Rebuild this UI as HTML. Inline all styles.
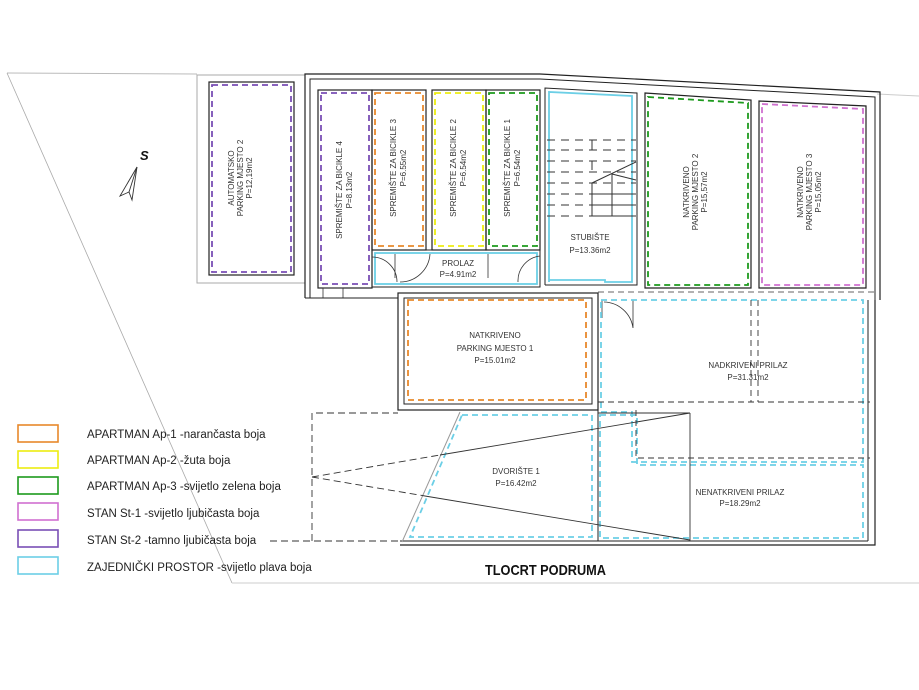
<!DOCTYPE html>
<html><head><meta charset="utf-8"><style>
html,body{margin:0;padding:0;background:#fff;width:919px;height:690px;overflow:hidden}
svg{display:block}
text{font-family:"Liberation Sans",sans-serif;fill:#333}
</style></head><body>
<svg width="919" height="690" viewBox="0 0 919 690" xmlns="http://www.w3.org/2000/svg">
<g fill="none" stroke-linejoin="miter">
<!-- site lines -->
<polyline points="7,73 197,74" stroke="#bbb" stroke-width="1"/>
<line x1="7" y1="73" x2="232" y2="583" stroke="#aaa" stroke-width="0.8"/>
<line x1="232" y1="583" x2="919" y2="583" stroke="#ccc" stroke-width="1"/>
<line x1="877" y1="94" x2="919" y2="96" stroke="#ccc" stroke-width="1"/>
<!-- auto parking -->
<rect x="197" y="75" width="108" height="208" stroke="#aaa" stroke-width="1"/>
<rect x="209" y="82" width="85" height="193" stroke="#222" stroke-width="1.2"/>
<rect x="212" y="85" width="79" height="187" stroke="#7a4fb5" stroke-width="1.8" stroke-dasharray="6,4"/>
<!-- building outer -->
<polyline points="305,298 305,74 540,74 880,92 880,300" stroke="#222" stroke-width="1.2"/>
<polyline points="310,298 310,79 540,79 875,97 875,300" stroke="#222" stroke-width="1"/>
<!-- storage -->
<rect x="318" y="90" width="54" height="198" stroke="#222" stroke-width="1.2"/>
<rect x="321" y="93" width="48" height="191" stroke="#7a4fb5" stroke-width="1.8" stroke-dasharray="6,4"/>
<rect x="372" y="90" width="54" height="160" stroke="#222" stroke-width="1.2"/>
<rect x="375" y="93" width="48" height="153" stroke="#e8892b" stroke-width="1.8" stroke-dasharray="6,4"/>
<rect x="432" y="90" width="54" height="160" stroke="#222" stroke-width="1.2"/>
<rect x="435" y="93" width="48" height="153" stroke="#eded10" stroke-width="1.8" stroke-dasharray="6,4"/>
<rect x="486" y="90" width="54" height="160" stroke="#222" stroke-width="1.2"/>
<rect x="489" y="93" width="48" height="153" stroke="#1d9a1d" stroke-width="1.8" stroke-dasharray="6,4"/>
<!-- prolaz -->
<rect x="372" y="250" width="168" height="37" stroke="#222" stroke-width="1"/>
<rect x="375" y="253" width="162" height="31" stroke="#6ccfe6" stroke-width="1.8"/>
<path d="M395,254 L395,278 M372,257 A25,25 0 0 1 397,282 M430,254 A30,30 0 0 1 400,282 M488,254 L488,278 M518,282 A25,25 0 0 1 540,256" stroke="#333" stroke-width="0.8"/>
<rect x="323" y="288" width="20" height="10" stroke="#333" stroke-width="0.8"/>
<!-- stubiste -->
<polyline points="545,285 545,88 637,93 637,285 545,285" stroke="#222" stroke-width="1"/>
<polygon points="549,282 549,92 632,96 632,282 605,282 605,280 549,280" stroke="#6ccfe6" stroke-width="1.8"/>
<g stroke="#333" stroke-width="1" stroke-dasharray="8,6">
<line x1="547" y1="140" x2="636" y2="140"/><line x1="547" y1="150" x2="636" y2="150"/><line x1="547" y1="161" x2="636" y2="161"/><line x1="547" y1="172" x2="636" y2="172"/><line x1="547" y1="183" x2="636" y2="183"/><line x1="547" y1="194" x2="636" y2="194"/><line x1="547" y1="205" x2="636" y2="205"/><line x1="547" y1="216" x2="636" y2="216"/>
</g>
<path d="M592,183 L592,216 M592,183 L636,162 M612,174 L636,180 M612,174 L612,216 M592,194 L636,194 M592,205 L636,205 M592,216 L636,216 M592,140 L592,150 M592,161 L592,170" stroke="#333" stroke-width="1"/>
<!-- parking 2,3 -->
<polygon points="645,93 751,100 751,288 645,288" stroke="#222" stroke-width="1.2"/>
<polygon points="648,97 748,103 748,285 648,285" stroke="#1d9a1d" stroke-width="1.8" stroke-dasharray="6,4"/>
<polygon points="759,101 866,106 866,288 759,288" stroke="#222" stroke-width="1.2"/>
<polygon points="762,104 863,109 863,285 762,285" stroke="#d070d0" stroke-width="1.8" stroke-dasharray="6,4"/>
<line x1="598" y1="292" x2="875" y2="292" stroke="#333" stroke-width="0.8" stroke-dasharray="6,4"/>
<!-- parking 1 -->
<rect x="398" y="293" width="200" height="117" stroke="#222" stroke-width="1.2"/>
<rect x="404" y="298" width="188" height="106" stroke="#222" stroke-width="1"/>
<rect x="408" y="300" width="178" height="100" stroke="#e8892b" stroke-width="1.8" stroke-dasharray="6,4"/>
<line x1="305" y1="298" x2="398" y2="298" stroke="#222" stroke-width="1"/>
<!-- door -->
<path d="M602,300 L602,318 M604,302 A30,30 0 0 1 633,328 L633,300" stroke="#333" stroke-width="0.8"/>
<!-- approach -->
<polyline points="875,300 875,545 400,545" stroke="#222" stroke-width="1.2"/>
<line x1="400" y1="541" x2="868" y2="541" stroke="#222" stroke-width="1"/>
<line x1="868" y1="300" x2="868" y2="541" stroke="#222" stroke-width="1"/>
<line x1="598" y1="298" x2="598" y2="541" stroke="#222" stroke-width="1"/>
<polygon points="601,300 863,300 863,462 632,462 632,412 601,412" stroke="#6ccfe6" stroke-width="1.8" stroke-dasharray="6,4"/>
<polygon points="600,415 637,415 637,465 863,465 863,538 600,538" stroke="#6ccfe6" stroke-width="1.8" stroke-dasharray="6,4"/>
<g stroke="#333" stroke-width="0.9" stroke-dasharray="6,4">
<line x1="598" y1="402" x2="870" y2="402"/>
<polyline points="636,410 636,458 870,458"/>
<line x1="751" y1="300" x2="751" y2="402"/>
<line x1="758" y1="300" x2="758" y2="402"/>
</g>
<!-- dvoriste -->
<polygon points="462,415 592,415 592,537 410,537" stroke="#6ccfe6" stroke-width="1.8" stroke-dasharray="6,4"/>
<line x1="460" y1="412" x2="402" y2="542" stroke="#999" stroke-width="1"/>
<g stroke="#333" stroke-width="0.9" stroke-dasharray="7,4">
<polyline points="312,541 312,413 398,413"/>
<line x1="270" y1="541" x2="400" y2="541"/>
<line x1="312" y1="477" x2="440" y2="455"/>
<line x1="312" y1="477" x2="425" y2="496"/>
</g>
<line x1="440" y1="455" x2="690" y2="413" stroke="#333" stroke-width="0.9"/>
<line x1="425" y1="496" x2="690" y2="540" stroke="#333" stroke-width="0.9"/>
<line x1="690" y1="413" x2="690" y2="541" stroke="#333" stroke-width="0.9"/>
<line x1="598" y1="413" x2="690" y2="413" stroke="#333" stroke-width="0.9"/>
<!-- compass -->
<polygon points="137,167 120,196 129,192 132,200" stroke="#333" stroke-width="0.9"/>
<line x1="137" y1="167" x2="129" y2="192" stroke="#333" stroke-width="0.9"/>
<!-- legend -->
<rect x="18" y="425" width="40" height="17" stroke="#e8892b" stroke-width="1.6"/>
<rect x="18" y="451" width="40" height="17" stroke="#eded10" stroke-width="1.6"/>
<rect x="18" y="477" width="40" height="17" stroke="#1d9a1d" stroke-width="1.6"/>
<rect x="18" y="503" width="40" height="17" stroke="#d070d0" stroke-width="1.6"/>
<rect x="18" y="530" width="40" height="17" stroke="#7a4fb5" stroke-width="1.6"/>
<rect x="18" y="557" width="40" height="17" stroke="#6ccfe6" stroke-width="1.6"/>
</g>
<text x="140" y="160" font-size="13" font-weight="bold" font-style="italic" style="fill:#111">S</text>
<g font-size="8">
<text transform="translate(240,178) rotate(-90)" text-anchor="middle"><tspan x="0" dy="-6">AUTOMATSKO</tspan><tspan x="0" dy="9">PARKING MJESTO 2</tspan><tspan x="0" dy="9">P=12,19m2</tspan></text>
<text transform="translate(342,190) rotate(-90)" text-anchor="middle"><tspan x="0" dy="0">SPREMIŠTE ZA BICIKLE 4</tspan><tspan x="0" dy="10">P=8.13m2</tspan></text>
<text transform="translate(396,168) rotate(-90)" text-anchor="middle"><tspan x="0" dy="0">SPREMIŠTE ZA BICIKLE 3</tspan><tspan x="0" dy="10">P=6.55m2</tspan></text>
<text transform="translate(456,168) rotate(-90)" text-anchor="middle"><tspan x="0" dy="0">SPREMIŠTE ZA BICIKLE 2</tspan><tspan x="0" dy="10">P=6.54m2</tspan></text>
<text transform="translate(510,168) rotate(-90)" text-anchor="middle"><tspan x="0" dy="0">SPREMIŠTE ZA BICIKLE 1</tspan><tspan x="0" dy="10">P=6.54m2</tspan></text>
<text transform="translate(695,192) rotate(-90)" text-anchor="middle"><tspan x="0" dy="-6">NATKRIVENO</tspan><tspan x="0" dy="9">PARKING MJESTO 2</tspan><tspan x="0" dy="9">P=15,57m2</tspan></text>
<text transform="translate(809,192) rotate(-90)" text-anchor="middle"><tspan x="0" dy="-6">NATKRIVENO</tspan><tspan x="0" dy="9">PARKING MJESTO 3</tspan><tspan x="0" dy="9">P=15,05m2</tspan></text>
<text x="590" y="240" text-anchor="middle">STUBIŠTE</text>
<text x="590" y="253" text-anchor="middle">P=13.36m2</text>
<text x="458" y="266" text-anchor="middle">PROLAZ</text>
<text x="458" y="277" text-anchor="middle">P=4.91m2</text>
<text x="495" y="338" text-anchor="middle">NATKRIVENO</text>
<text x="495" y="351" text-anchor="middle">PARKING MJESTO 1</text>
<text x="495" y="363" text-anchor="middle">P=15.01m2</text>
<text x="748" y="368" text-anchor="middle">NADKRIVENI PRILAZ</text>
<text x="748" y="380" text-anchor="middle">P=31.31m2</text>
<text x="516" y="474" text-anchor="middle">DVORIŠTE 1</text>
<text x="516" y="486" text-anchor="middle">P=16.42m2</text>
<text x="740" y="495" text-anchor="middle">NENATKRIVENI PRILAZ</text>
<text x="740" y="506" text-anchor="middle">P=18.29m2</text>
</g>
<g font-size="11.5">
<text x="87" y="438" style="fill:#222">APARTMAN Ap-1 -narančasta boja</text>
<text x="87" y="464" style="fill:#222">APARTMAN Ap-2 -žuta boja</text>
<text x="87" y="490" style="fill:#222">APARTMAN Ap-3  -svijetlo zelena boja</text>
<text x="87" y="517" style="fill:#222">STAN St-1 -svijetlo ljubičasta boja</text>
<text x="87" y="544" style="fill:#222">STAN St-2 -tamno ljubičasta boja</text>
<text x="87" y="571" style="fill:#222">ZAJEDNIČKI PROSTOR -svijetlo plava boja</text>
</g>
<text transform="translate(485,575) scale(0.85,1)" font-size="15" font-weight="bold" style="fill:#111">TLOCRT PODRUMA</text>
</svg>
</body></html>
